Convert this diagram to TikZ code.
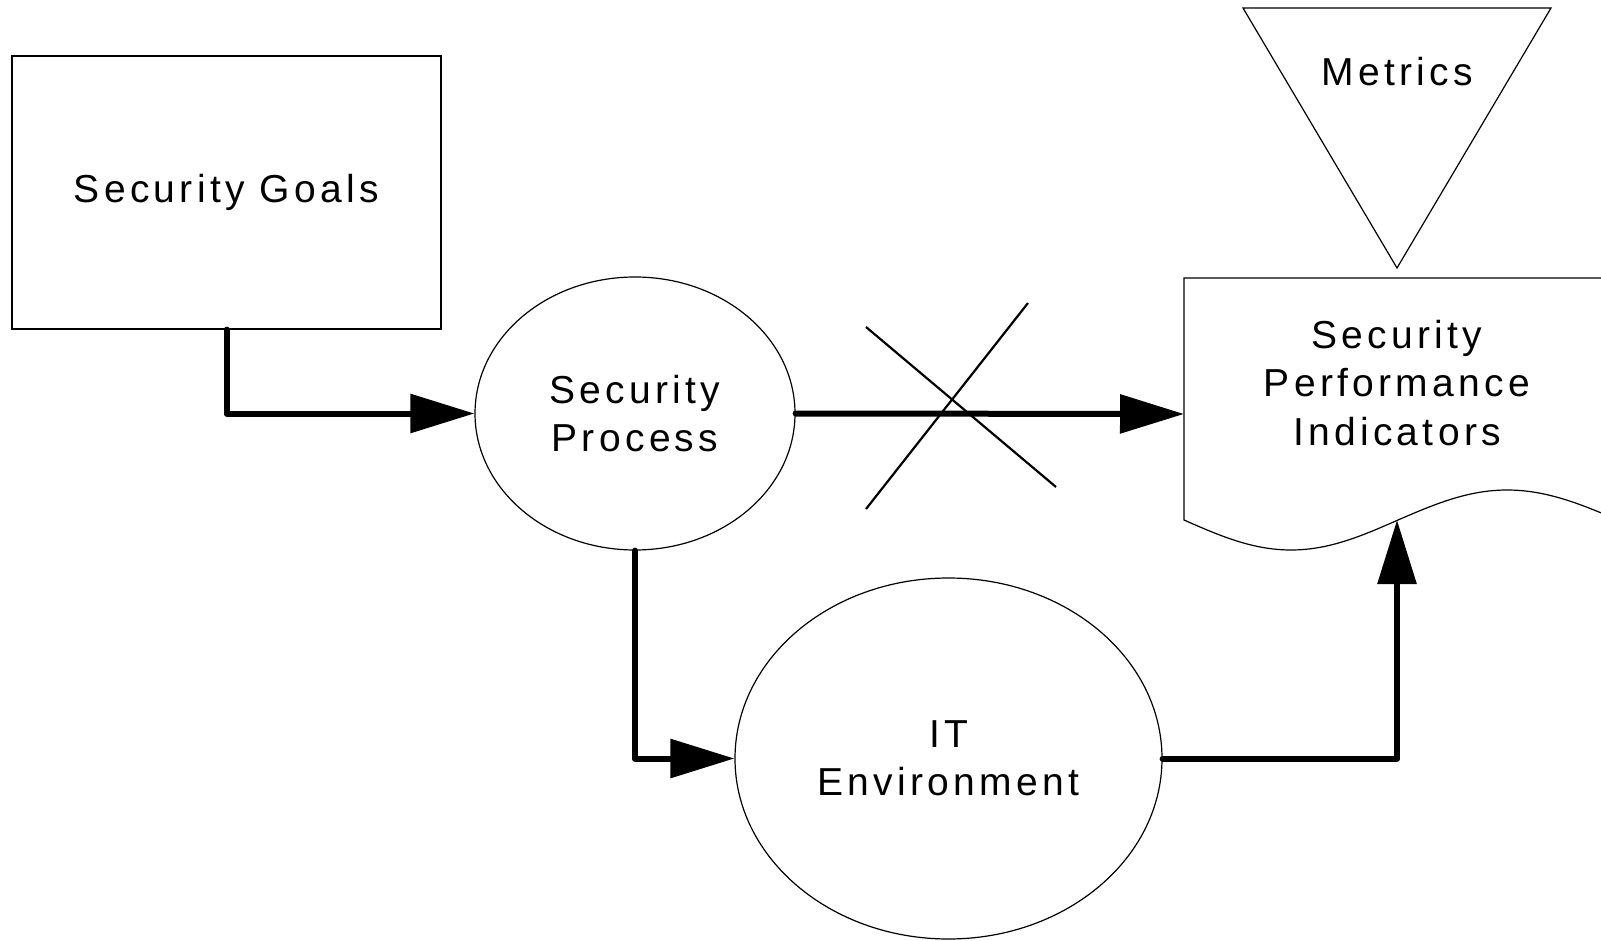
\documentclass[tikz,border=0pt]{standalone}
\usepackage{fontspec}
\setmainfont{Liberation Sans}[LetterSpace=11]
\usetikzlibrary{arrows.meta,shapes.geometric}

\begin{document}
\begin{tikzpicture}[x=1pt, y=-1pt, line width=1.2pt,
  txt/.style={align=center, font=\fontsize{39}{48.5}\selectfont},
  flow/.style={line width=6pt, line cap=round, line join=round, -{Triangle[length=64pt, width=38pt]}},
  blob/.style={draw, ellipse, inner sep=0pt, txt}]
\useasboundingbox (0,0) rectangle (1601,941);
\clip (0,0) rectangle (1601,941);
\node[draw, rectangle, inner sep=0pt, minimum width=429pt, minimum height=273pt, txt] (goals) at (226.5,192.5){Security Goals};
\node[blob, minimum width=320pt, minimum height=273pt] (process) at (635,413.5){Security\\Process};
\node[blob, minimum width=427pt, minimum height=361pt] (itenv) at (948.5,758.5){IT\\Environment};
% document shape
\draw (1601,278) -- (1184,278) -- (1184,520) sin (1291,550) cos (1398,520) sin (1507,490) cos (1618,520);
\node[txt] (spi) at (1397,383){Security\\Performance\\Indicators};
\coordinate (spiw) at (1184,414);
\coordinate (spis) at (1397,520);
% triangle
\draw (1243,8) -- (1551,8) -- (1397,268) -- cycle;
\node[txt] (metrics) at (1397,72){Metrics};
\draw[flow](goals.south) |- (process.west);
\draw[flow](process.east) -- (spiw);
\draw[flow](process.south) |- (itenv.west);
\draw[flow](itenv.east) -| (spis);
% cross
\draw[line width=2.2pt] (866,327) -- (1056,487);
\draw[line width=2.2pt] (1028,303) -- (866,509);
\end{tikzpicture}
\end{document}
